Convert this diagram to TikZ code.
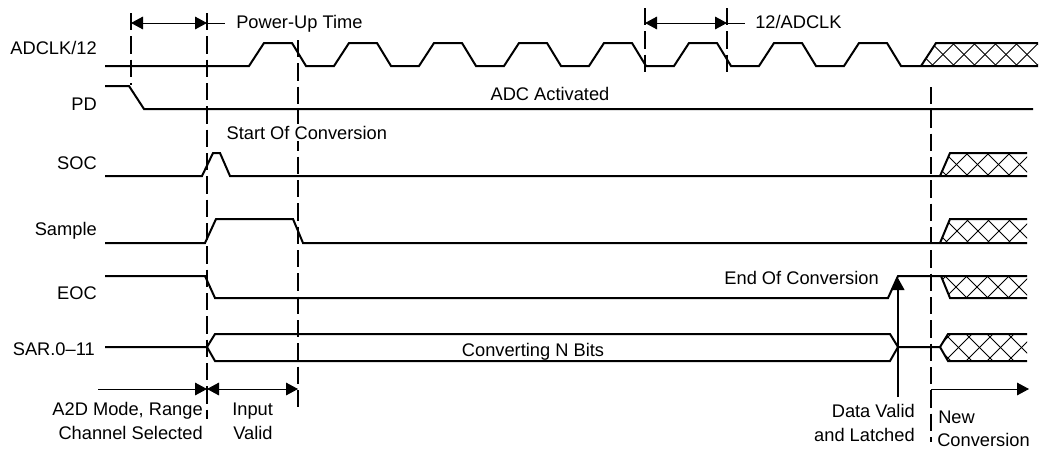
\documentclass[tikz,border=0pt]{standalone}
\usepackage{fontspec}
\setmainfont{Liberation Sans}
\usetikzlibrary{arrows.meta}
\newcommand\xhatch[4]{% #1 clip path, #2 top y, #3 bottom y, #4 phase
  \begin{scope}
    \clip #1;
    \pgfmathsetmacro\hh{#3-#2}
    \foreach \a in {0,...,7}{
      \draw[hatchline] (#4+21*\a-21,#2) -- ++(\hh,\hh);
      \draw[hatchline] (#4+21*\a-21,#3) -- ++(\hh,-\hh);
    }
  \end{scope}}
\begin{document}
\begin{tikzpicture}[x=0.75pt,y=-0.75pt,
  >={Triangle[length=9pt,width=9.5pt]},
  sig/.style={line width=1.5pt, line join=miter, line cap=butt},
  guide/.style={line width=1.5pt, dash pattern=on 13pt off 4.5pt},
  hatchline/.style={line width=0.75pt},
  dimline/.style={line width=0.75pt},
  lbl/.style={font=\fontsize{13.7}{16}\selectfont, inner sep=0pt}]
\useasboundingbox (0,0) rectangle (1044,450);

% ---------- signal names ----------
\node[lbl, anchor=base east] (nADC)  at (97,54)  {ADCLK/12};
\node[lbl, anchor=base east] (nPD)   at (97,110) {PD};
\node[lbl, anchor=base east] (nSOC)  at (97,169) {SOC};
\node[lbl, anchor=base east] (nSMP)  at (97,235) {Sample};
\node[lbl, anchor=base east] (nEOC)  at (97,299) {EOC};
\node[lbl, anchor=base east] (nSAR)  at (95,355) {SAR.0--11};

% ---------- guide lines ----------
\draw[guide] (131,13) -- (131,85);
\draw[guide] (207,13) -- (207,419);
\draw[guide] (298,40) -- (298,408);
\draw[guide] (645,8) -- (645,77);
\draw[guide] (727,8) -- (727,77);
\draw[guide] (931,87) -- (931,442);

% ---------- ADCLK/12 ----------
\draw[sig] (105,66) -- (249,66)
  \foreach \k in {0,...,7}{ -- ({249+85*\k},66) -- ({264+85*\k},43) -- ({292+85*\k},43) -- ({306+85*\k},66) }
  -- (1038,66);
\draw[sig] (921,66) -- (936,43) -- (1038,43);
\xhatch{(921,66) -- (936,43) -- (1038,43) -- (1038,66) -- cycle}{43}{66}{931.5}

% ---------- PD ----------
\draw[sig] (105,86) -- (129,86) -- (144,109) -- (1033,109);
\node[lbl, anchor=base] (tADC) at (550,100) {ADC Activated};

% ---------- SOC ----------
\draw[sig] (105,176) -- (202,176) -- (213,153) -- (220,153) -- (230,176) -- (1027,176);
\draw[sig] (940,176) -- (950,153) -- (1027,153);
\xhatch{(940,176) -- (950,153) -- (1027,153) -- (1027,176) -- cycle}{153}{176}{945}
\node[lbl, anchor=base west, fill=white, inner sep=1pt] (tSOC) at (225,139) {Start Of Conversion};

% ---------- Sample ----------
\draw[sig] (105,243) -- (205,243) -- (216,219) -- (293,219) -- (303,243) -- (1027,243);
\draw[sig] (940,243) -- (950,219) -- (1027,219);
\xhatch{(940,243) -- (950,219) -- (1027,219) -- (1027,243) -- cycle}{219}{243}{945}

% ---------- EOC ----------
\draw[sig] (105,276) -- (205,276) -- (215,298) -- (888,298) -- (898,276) -- (1027,276);
\draw[sig] (941,276) -- (950,298) -- (1027,298);
\xhatch{(941,276) -- (950,298) -- (1027,298) -- (1027,276) -- cycle}{276}{298}{945}
\node[lbl, anchor=base east] (tEOC) at (879,284) {End Of Conversion};

% ---------- SAR ----------
\draw[sig] (105,347) -- (207,347) -- (215,334) -- (890,334) -- (898,347) -- (940,347) -- (948,334) -- (1027,334);
\draw[sig] (207,347) -- (215,361) -- (890,361) -- (898,347);
\draw[sig] (940,347) -- (948,361) -- (1027,361);
\xhatch{(940,347) -- (948,334) -- (1027,334) -- (1027,361) -- (948,361) -- cycle}{334}{361}{945}
\node[lbl, anchor=base] (tCNV) at (533,356) {Converting N Bits};

% ---------- data valid arrow ----------
\coordinate (dvB) at (898,397);
\coordinate (dvT) at (898,278);
\draw[sig, ->] (dvB) -- (dvT);

% ---------- dimension arrows (top) ----------
\coordinate (pu1) at (131,23);
\coordinate (pu2) at (207,23);
\coordinate (pu3) at (225,23);
\draw[dimline, <->] (pu1) -- (pu2);
\draw[dimline] (pu2) -- (pu3);
\node[lbl, anchor=base west] (tPU) at (236,28) {Power-Up Time};

\coordinate (ck1) at (645,23);
\coordinate (ck2) at (727,23);
\coordinate (ck3) at (745,23);
\draw[dimline, <->] (ck1) -- (ck2);
\draw[dimline] (ck2) -- (ck3);
\node[lbl, anchor=base west] (tCK) at (755,28) {12/ADCLK};

% ---------- dimension arrows (bottom) ----------
\coordinate (b0) at (98,389);
\coordinate (b1) at (207,389);
\coordinate (b2) at (298,389);
\coordinate (b3) at (931,389);
\coordinate (b4) at (1029,389);
\draw[dimline, ->] (b0) -- (b1);
\draw[dimline, <->] (b1) -- (b2);
\draw[dimline, ->] (b3) -- (b4);

\node[lbl, anchor=base east] (tA2Da) at (203,415) {A2D Mode, Range};
\node[lbl, anchor=base east] (tA2Db) at (203,439) {Channel Selected};
\node[lbl, anchor=base west] (tINa) at (232,415) {Input};
\node[lbl, anchor=base west] (tINb) at (233,439) {Valid};
\node[lbl, anchor=base east] (tDVa) at (915,417) {Data Valid};
\node[lbl, anchor=base east] (tDVb) at (915,441) {and Latched};
\node[lbl, anchor=base west] (tNCa) at (938,423) {New};
\node[lbl, anchor=base west] (tNCb) at (937,446) {Conversion};
\end{tikzpicture}
\end{document}
